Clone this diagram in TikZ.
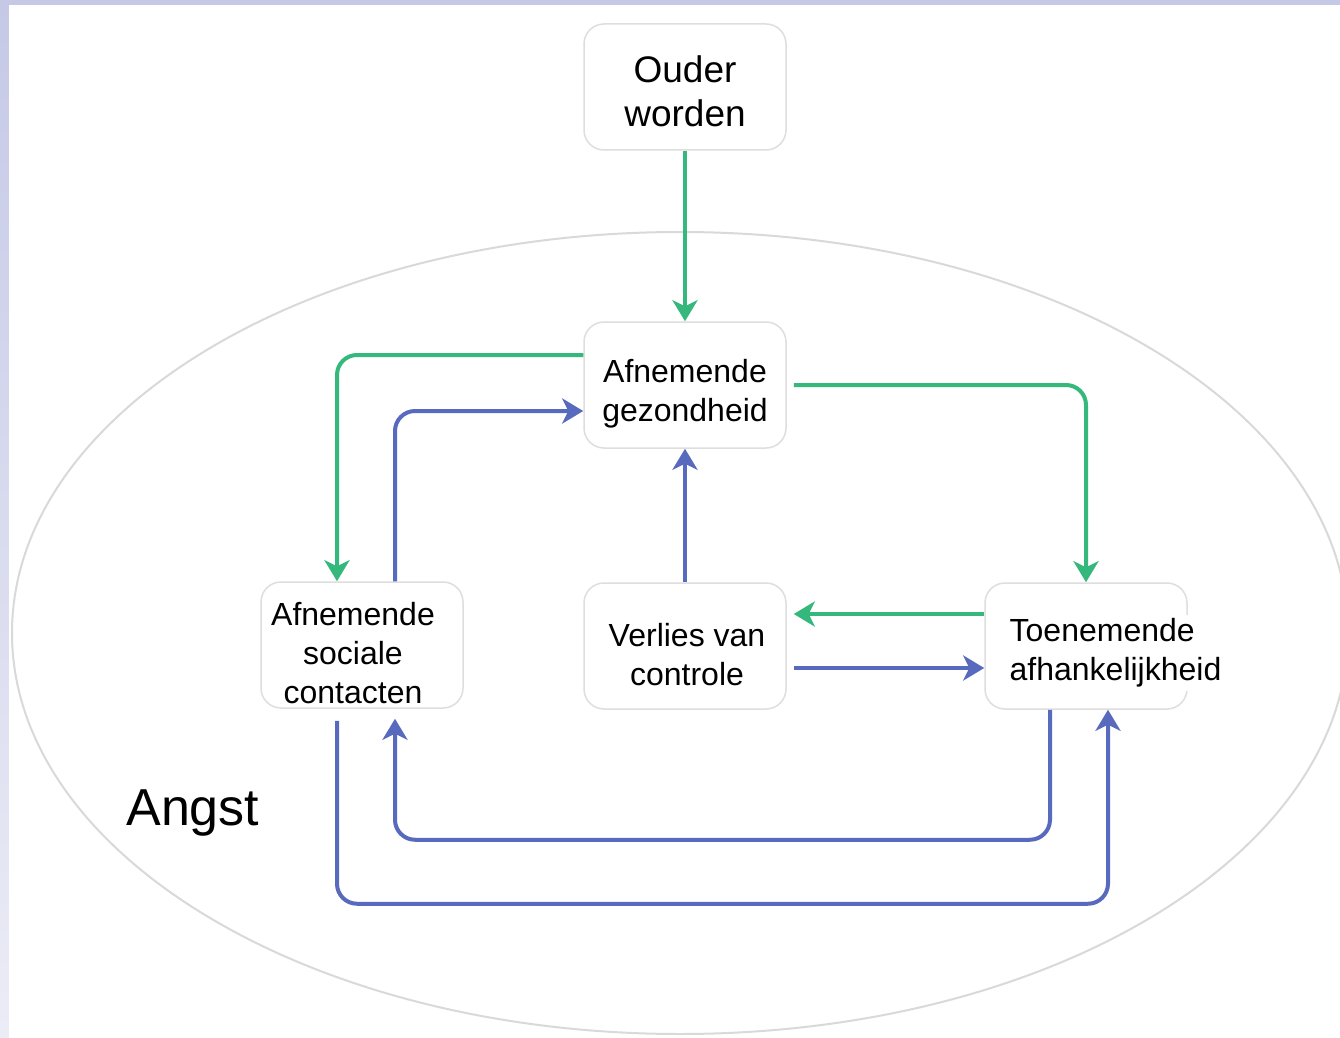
\documentclass[tikz,border=0pt]{standalone}
\usepackage{fontspec}
\setmainfont{Liberation Sans}
\usetikzlibrary{arrows.meta}
\definecolor{groen}{RGB}{52,184,124}
\definecolor{blauw}{RGB}{88,106,190}
\definecolor{lavendel}{RGB}{198,201,230}
\definecolor{randgrijs}{RGB}{222,222,222}
\begin{document}
\begin{tikzpicture}[x=0.5pt,y=-0.5pt,
	kader/.style={draw=randgrijs,line width=0.75pt,fill=white,rounded corners=10pt,minimum width=101pt,minimum height=63pt,inner sep=0pt},
	tekst/.style={inner sep=2pt,align=center,font=\fontsize{16}{19.5}\selectfont},
	pijl/.style={line width=2pt,rounded corners=10pt,-{Stealth[length=10.5pt,width=12.5pt,inset=3pt]}},
	groenpijl/.style={pijl,groen},
	blauwpijl/.style={pijl,blauw}]
	\useasboundingbox (0,0) rectangle (1340,1038);
	\fill[lavendel] (0,0) rectangle (1340,5);
	\shade[top color=lavendel,bottom color=lavendel!35] (0,0) rectangle (9,1038);
	\fill[white] (9,5) rectangle (1340,1038);
	\begin{scope}
		\clip (9,5) rectangle (1340,1038);
		\draw[gray!30,line width=1pt] (680,633) ellipse [x radius=668,y radius=401];
	\end{scope}

	\node[kader] (ouder) at (685,87) {};
	\node[kader] (gezond) at (685,385) {};
	\node[kader] (sociaal) at (362,645) {};
	\node[kader] (verlies) at (685,646) {};
	\node[kader] (toenemend) at (1086,646) {};
	\node[tekst,font=\fontsize{18.5}{22}\selectfont] (oudertekst) at ([yshift=-2pt]ouder) {Ouder\\worden};
	\node[tekst] (gezondtekst) at ([yshift=-4.5pt]gezond) {Afnemende\\gezondheid};
	\node[tekst] (sociaaltekst) at ([xshift=-4.5pt,yshift=-4pt]sociaal) {Afnemende\\sociale\\contacten};
	\node[tekst] (verliestekst) at ([xshift=1pt,yshift=-4.5pt]verlies) {Verlies van\\controle};
	\node[tekst,align=left,fill=white,anchor=west] (toenemendtekst) at ([xshift=10.5pt,yshift=-3.5pt]toenemend.west) {Toenemende\\afhankelijkheid};
	\node[font=\fontsize{26}{30}\selectfont,anchor=base west,inner sep=0pt] (angst) at (126,825) {Angst};

	\draw[groenpijl] (ouder.south) -- (gezond.north);
	\draw[groenpijl] ([yshift=15pt]gezond.west) -| ([xshift=-12.5pt]sociaal.north);
	\draw[groenpijl,shorten <=3.5pt] (gezond.east) -| (toenemend.north);
	\draw[groenpijl,shorten >=3.5pt] ([yshift=16pt]toenemend.west) -- ([yshift=16pt]verlies.east);

	\draw[blauwpijl] ([xshift=16.5pt]sociaal.north) |- ([yshift=-13pt]gezond.west);
	\draw[blauwpijl] (verlies.north) -- (gezond.south);
	\draw[blauwpijl,shorten <=3.5pt] ([yshift=-11pt]verlies.east) -- ([yshift=-11pt]toenemend.west);
	\draw[blauwpijl,shorten >=5pt] ([xshift=-18pt]toenemend.south) -- ++(0,130) -| ([xshift=16.5pt]sociaal.south);
	\draw[blauwpijl,shorten <=6pt] ([xshift=-12.5pt]sociaal.south) -- ++(0,195) -| ([xshift=11pt]toenemend.south);
\end{tikzpicture}
\end{document}
